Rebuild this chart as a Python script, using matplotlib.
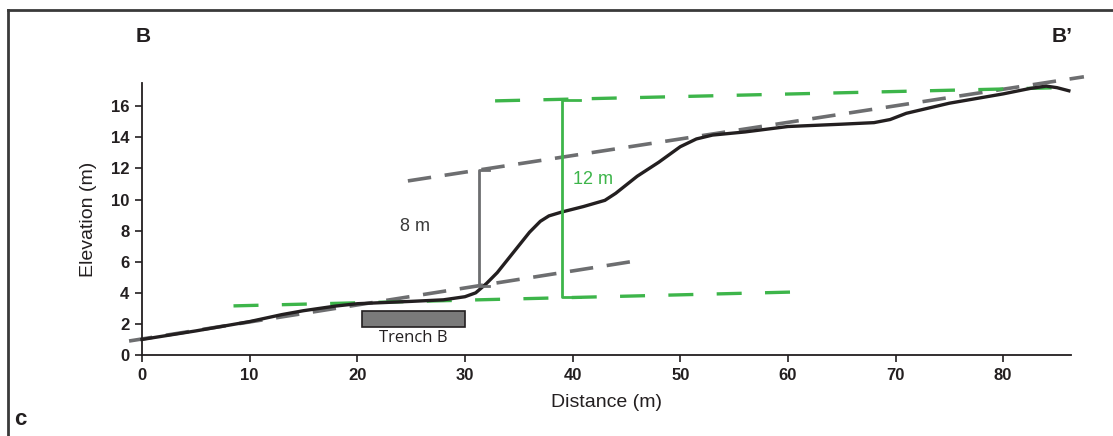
import numpy as np
import matplotlib.pyplot as plt
from matplotlib.lines import Line2D
from matplotlib.patches import Rectangle

# Profil B-B'
dist = [0, 5, 10, 13, 15, 18, 20, 25, 28, 30, 31, 32, 33, 34.5, 36, 37, 37.8, 39, 41, 43,
        44, 46, 48, 50, 51.5, 53, 56, 60, 65, 68, 69.5, 71, 75, 80, 82.5, 84, 85, 86.1]
elev = [1.0, 1.55, 2.15, 2.6, 2.85, 3.15, 3.3, 3.45, 3.55, 3.75, 4.0, 4.6, 5.3, 6.6, 7.9, 8.6,
        8.95, 9.2, 9.55, 9.95, 10.4, 11.5, 12.4, 13.4, 13.9, 14.15, 14.35, 14.7, 14.85, 14.95,
        15.15, 15.55, 16.2, 16.8, 17.15, 17.3, 17.2, 17.0]

# gestrichelte Hilfslinien (Start/Ende)
gray_upper_x, gray_upper_y = [24.7, 87.5], [11.2, 17.9]
gray_lower_x, gray_lower_y = [-1.2, 45.4], [0.9, 6.0]
green_upper_x, green_upper_y = [32.8, 85.3], [16.35, 17.2]
green_lower_x, green_lower_y = [8.5, 61.0], [3.16, 4.06]

# Versatz-Balken
bar8_x, bar8_y = 31.3, [4.45, 11.9]
bar12_x, bar12_y = 39.0, [3.76, 16.4]

# Trench
trench_x, trench_y = [20.45, 30.0], [1.83, 2.8]

xticks = [0, 10, 20, 30, 40, 50, 60, 70, 80]
yticks = [0, 2, 4, 6, 8, 10, 12, 14, 16]

GREEN = '#3db54a'
GRAY = '#6d6e70'
BLACK = '#231f20'

plt.rcParams['font.family'] = ['Liberation Sans', 'DejaVu Sans']

fig = plt.figure(figsize=(11.13, 4.36), dpi=100)
W, H = 1113, 436
ax = fig.add_axes([142 / W, (H - 355) / H, (1071 - 142) / W, (355 - 83) / H])
ax.set_xlim(0, 86.3)
ax.set_ylim(0, 17.5)

for s in ['top', 'right']:
    ax.spines[s].set_visible(False)
for s in ['left', 'bottom']:
    ax.spines[s].set_color(BLACK)
    ax.spines[s].set_linewidth(1.3)

ax.set_xticks(xticks)
ax.set_yticks(yticks)
ax.tick_params(direction='out', length=5, width=1.2, color=BLACK, pad=4)
for lab in ax.get_xticklabels() + ax.get_yticklabels():
    lab.set_fontweight('bold')
    lab.set_fontsize(12)
    lab.set_color(BLACK)

ax.set_xlabel('Distance (m)', fontsize=14, color=BLACK, labelpad=8)
ax.set_ylabel('Elevation (m)', fontsize=14, color=BLACK, labelpad=10)

# Hilfslinien
ax.plot(gray_upper_x, gray_upper_y, color=GRAY, lw=2.6, dashes=(6.5, 3.8), clip_on=False)
ax.plot(gray_lower_x, gray_lower_y, color=GRAY, lw=2.6, dashes=(6.5, 3.8), clip_on=False)
ax.plot(green_upper_x, green_upper_y, color=GREEN, lw=2.4, dashes=(7.5, 7), clip_on=False)
ax.plot(green_lower_x, green_lower_y, color=GREEN, lw=2.4, dashes=(7.5, 7), clip_on=False)

# Profil
ax.plot(dist, elev, color=BLACK, lw=2.4, solid_joinstyle='round', clip_on=False)

# Balken
ax.plot([bar8_x + 0.95, bar8_x, bar8_x, bar8_x + 0.95],
        [bar8_y[0], bar8_y[0], bar8_y[1], bar8_y[1]], color=GRAY, lw=2)
ax.plot([bar12_x + 1.7, bar12_x, bar12_x, bar12_x + 1.7],
        [bar12_y[0], bar12_y[0], bar12_y[1], bar12_y[1]], color=GREEN, lw=2)
ax.text(25.4, 8.25, '8 m', color='#3a3a3a', fontsize=13, ha='center', va='center')
ax.text(41.9, 11.3, '12 m', color=GREEN, fontsize=13, ha='center', va='center')

# Trench
ax.add_patch(Rectangle((trench_x[0], trench_y[0]), trench_x[1] - trench_x[0],
                       trench_y[1] - trench_y[0], facecolor='#7a7a7a',
                       edgecolor=BLACK, lw=1.2))
ax.text(np.mean(trench_x), 1.1, 'Trench B', fontsize=12, ha='center', va='center',
        color=BLACK, family=['Open Sans', 'DejaVu Sans'])

# Rahmen und Beschriftungen
fig.add_artist(Line2D([8 / W, 1], [1 - 10 / H, 1 - 10 / H], color='#3a3a3a', lw=2))
fig.add_artist(Line2D([8 / W, 8 / W], [0, 1 - 10 / H], color='#3a3a3a', lw=2))
fig.text(143 / W, 1 - 37 / H, 'B', fontsize=15, fontweight='bold', ha='center',
         va='center', color=BLACK)
fig.text(1062 / W, 1 - 37 / H, 'B\u2019', fontsize=15, fontweight='bold', ha='center',
         va='center', color=BLACK)
fig.text(14 / W, 6 / H, 'c', fontsize=16, fontweight='bold', ha='left',
         va='bottom', color=BLACK)

fig.savefig('out.png', dpi=100)
